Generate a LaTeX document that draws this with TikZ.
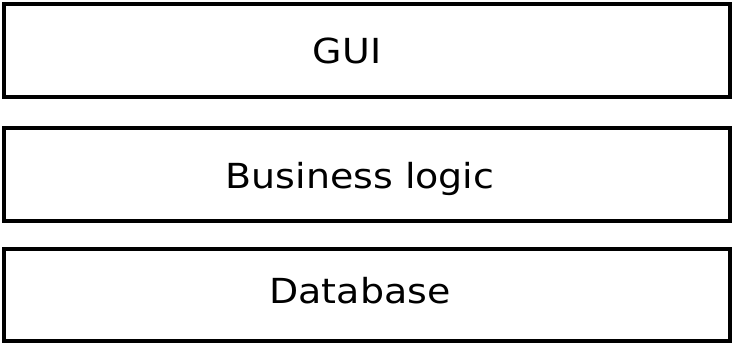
\documentclass[tikz,border=0pt]{standalone}
\usepackage{fontspec}
\setmainfont{DejaVu Sans}
\newfontfamily\layerfont[FakeStretch=1.1]{DejaVu Sans}
\begin{document}
\begin{tikzpicture}[x=1pt,y=-1pt,
  layer/.style={draw=black,line width=4pt,rectangle,inner sep=0pt,minimum width=726pt},
  ltext/.style={font=\layerfont\fontsize{34.5}{40}\selectfont,inner sep=0pt,anchor=base}]
\useasboundingbox (0,0) rectangle (733,343);
\node[layer,minimum height=92.5pt] (gui) at (367,50.25) {};
\node[layer,minimum height=93.5pt] (bl) at (367,174.25) {};
\node[layer,minimum height=92.5pt] (db) at (367,294.75) {};
\node[ltext] (guit) at (347,63.5) {GUI};
\node[ltext] (blt) at (360,188) {Business logic};
\node[ltext] (dbt) at (360,303) {Database};
\end{tikzpicture}
\end{document}
